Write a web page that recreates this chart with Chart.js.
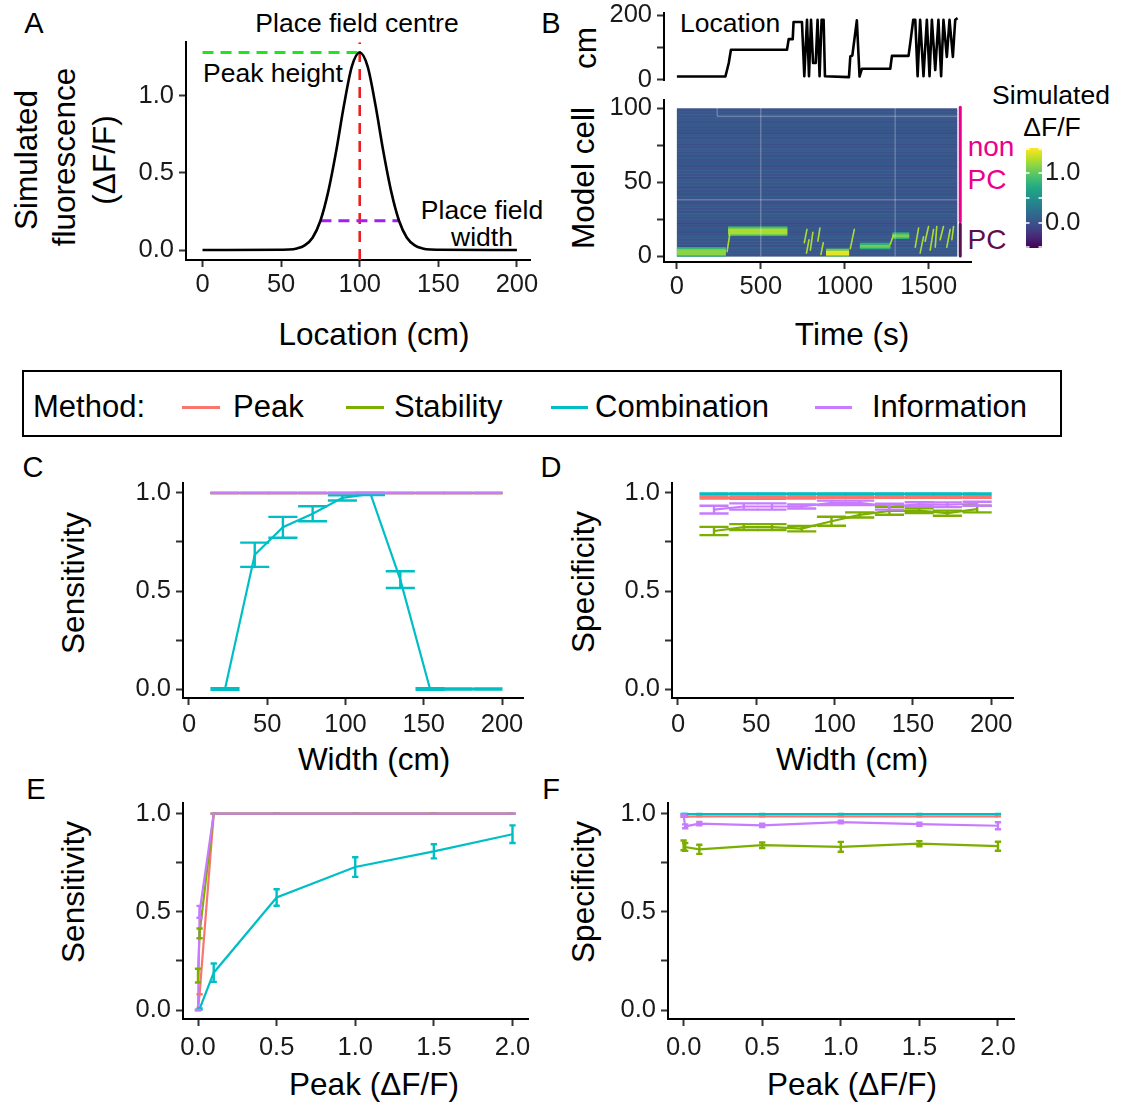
<!DOCTYPE html>
<html>
<head>
<meta charset="utf-8">
<title>Place cell detection – simulation</title>
<script src="https://cdn.jsdelivr.net/npm/chart.js@4.4.1/dist/chart.umd.min.js"></script>
<style>
  body { margin: 0; width: 1130px; height: 1104px; position: relative; overflow: hidden; background: #fff;
         font-family: 'Liberation Sans', Arial, Helvetica, sans-serif; color: #000; }
  canvas { position: absolute; }
  .t { position: absolute; white-space: nowrap; line-height: 1; transform: translate(-50%, -50%); }
  .l { transform: translate(0, -50%); }
  .v { transform: translate(-50%, -50%) rotate(-90deg); }
  .lab { font-size: 29px; }
  .ttl { font-size: 31.5px; }
  .ann { font-size: 26.5px; }
  .leg { font-size: 31px; }
  #legend { position: absolute; left: 22px; top: 370px; width: 1036px; height: 63px; border: 2px solid #000; }
  .key { position: absolute; height: 3px; top: 406px; }
</style>
</head>
<body>

<!-- panel letters -->
<div class="t lab" style="left:34px;top:23px">A</div>
<div class="t lab" style="left:551px;top:23px">B</div>
<div class="t lab" style="left:33px;top:467px">C</div>
<div class="t lab" style="left:551px;top:467px">D</div>
<div class="t lab" style="left:36px;top:789px">E</div>
<div class="t lab" style="left:551px;top:789px">F</div>

<!-- panel A text -->
<div class="t ann" style="left:357px;top:23px">Place field centre</div>
<div class="t ann l" style="left:203px;top:73px">Peak height</div>
<div class="t ann" style="left:482px;top:210px">Place field</div>
<div class="t ann" style="left:482px;top:237px">width</div>
<div class="t ttl v" style="left:27px;top:160px">Simulated</div>
<div class="t ttl v" style="left:65px;top:157px">fluorescence</div>
<div class="t ttl v" style="left:105px;top:160px">(ΔF/F)</div>
<div class="t ttl" style="left:374px;top:335px">Location (cm)</div>

<!-- panel B text -->
<div class="t ttl v" style="left:586px;top:48px">cm</div>
<div class="t ann l" style="left:680px;top:23px">Location</div>
<div class="t ttl v" style="left:584px;top:178px">Model cell</div>
<div class="t ttl" style="left:852px;top:335px">Time (s)</div>
<div class="t" style="left:991px;top:147px;font-size:28px;color:#EC008C">non</div>
<div class="t" style="left:987px;top:180px;font-size:28px;color:#EC008C">PC</div>
<div class="t" style="left:987px;top:240px;font-size:28px;color:#5E0F4F">PC</div>
<div class="t ann" style="left:1051px;top:95px">Simulated</div>
<div class="t ann" style="left:1052px;top:127px">ΔF/F</div>

<!-- shared legend -->
<div id="legend"></div>
<div class="t leg l" style="left:33px;top:406px">Method:</div>
<div class="key" style="left:182px;width:38px;background:#F8766D"></div>
<div class="t leg l" style="left:233px;top:406px">Peak</div>
<div class="key" style="left:346px;width:38px;background:#7CAE00"></div>
<div class="t leg l" style="left:394px;top:406px">Stability</div>
<div class="key" style="left:551px;width:37px;background:#00BFC4"></div>
<div class="t leg l" style="left:595px;top:406px">Combination</div>
<div class="key" style="left:815px;width:37px;background:#C77CFF"></div>
<div class="t leg l" style="left:872px;top:406px">Information</div>

<!-- panels C–F text -->
<div class="t ttl v" style="left:74px;top:583px">Sensitivity</div>
<div class="t ttl" style="left:374px;top:760px">Width (cm)</div>
<div class="t ttl v" style="left:584px;top:582px">Specificity</div>
<div class="t ttl" style="left:852px;top:760px">Width (cm)</div>
<div class="t ttl v" style="left:74px;top:892px">Sensitivity</div>
<div class="t ttl" style="left:374px;top:1085px">Peak (ΔF/F)</div>
<div class="t ttl v" style="left:584px;top:892px">Specificity</div>
<div class="t ttl" style="left:852px;top:1085px">Peak (ΔF/F)</div>

<script>
// ---------------- data ----------------

// A: one simulated place field
const locationCm = [0, 50, 55, 60, 65, 70, 75, 80, 85, 90, 95, 100, 105, 110, 115, 120, 125, 130, 135, 140, 145, 150, 200];
const fluorescence = [0, 0.002, 0.003, 0.01, 0.03, 0.08, 0.19, 0.38, 0.64, 0.94, 1.19, 1.28, 1.19, 0.94, 0.64, 0.38, 0.19, 0.08, 0.03, 0.01, 0.003, 0.002, 0];
const peakHeight = 1.28;
const fieldCentre = 100;
const fieldEdges = [75, 125];
const fieldEdgeLevel = 0.19;

// B: animal location over time
const traceTime = [0, 289, 309, 322, 656, 666, 690, 695, 745, 759, 775, 787, 799, 811, 827, 838, 850, 862, 874, 882,
  1025, 1033, 1045, 1072, 1088, 1102, 1271, 1281, 1380, 1394, 1408, 1420, 1434, 1449, 1469, 1489, 1505, 1519,
  1539, 1558, 1574, 1588, 1608, 1624, 1644, 1658, 1672];
const traceCm = [10, 10, 52, 93, 93, 126, 126, 179, 179, 11, 186, 11, 186, 52, 52, 186, 11, 186, 186, 11,
  8, 72, 75, 184, 10, 34, 34, 74, 74, 129, 186, 186, 11, 186, 11, 186, 11, 186,
  30, 186, 11, 186, 71, 186, 71, 186, 191];

// B: heatmap – baseline dF/F of model cells 1..100
const rowBase = [0.05, 0.02, 0.08, 0.0, 0.04, 0.1, 0.03, -0.02, 0.06, 0.01, 0.07, 0.0, 0.04, 0.09, 0.02, 0.05, -0.03, 0.06, 0.03, 0.08,
  0.01, 0.04, -0.08, 0.05, 0.02, 0.07, 0.0, 0.04, 0.1, 0.03, -0.02, 0.06, 0.01, 0.05, 0.08, 0.0, 0.03, -0.05, 0.06, 0.02,
  0.09, 0.04, 0.0, 0.05, 0.02, 0.07, -0.04, 0.03, 0.06, 0.01, 0.04, 0.08, 0.02, -0.03, 0.05, 0.0, 0.06, 0.03, 0.09, 0.01,
  0.04, -0.05, 0.07, 0.02, 0.05, 0.0, 0.08, 0.03, -0.02, 0.06, 0.01, 0.05, 0.09, 0.0, 0.04, -0.04, 0.06, 0.02, 0.07, 0.03,
  0.0, 0.05, 0.08, -0.03, 0.04, 0.01, 0.06, 0.02, 0.1, 0.03, 0.05, -0.02, 0.04, 0.07, 0.0, 0.06, 0.02, 0.05, -0.01, 0.03];
const heatEndTime = 1670;
// place-cell firing blocks: [start s, end s, first cell, last cell, dF/F]
const pcBands = [[0, 292, 1, 6, 1.15], [305, 658, 15, 20, 1.25], [888, 1026, 1, 5, 1.42],
  [1090, 1272, 6, 9, 1.05], [1283, 1384, 13, 16, 1.1]];
// brief crossings: [start s, cell, end s, cell]
const pcStreaks = [[299, 3, 318, 17], [759, 9, 775, 18], [772, 2, 787, 11], [795, 4, 810, 16], [840, 10, 852, 19],
  [858, 1, 872, 9], [1033, 5, 1057, 18], [1271, 8, 1290, 14], [1420, 6, 1440, 19], [1449, 2, 1469, 13],
  [1479, 10, 1499, 20], [1509, 4, 1529, 18], [1539, 6, 1548, 20], [1568, 11, 1588, 20], [1608, 6, 1628, 18],
  [1638, 11, 1648, 20]];
const colourMin = -0.5, colourMax = 1.5;
const colourTicks = [0, 1];
const colourMarks = [-0.5, 0, 0.5, 1, 1.5];

// C–F: method comparison
const methods = ['Peak', 'Stability', 'Combination', 'Information'];
const methodColours = ['#F8766D', '#7CAE00', '#00BFC4', '#C77CFF'];

const widthsCm = [23, 42, 60, 79, 98, 116, 135, 154, 172, 191];
const sensWidthPeak = [1, 1, 1, 1, 1, 1, 1, 1, 1, 1];
const sensWidthStab = [1, 1, 1, 1, 1, 1, 1, 1, 1, 1];
const sensWidthComb = [0, 0.685, 0.825, 0.894, 0.975, 0.995, 0.558, 0, 0, 0];
const sensWidthCombErr = [0.004, 0.062, 0.053, 0.038, 0.013, 0.005, 0.043, 0.004, 0.003, 0.003];
const sensWidthInfo = [1, 1, 1, 1, 1, 1, 1, 1, 1, 1];

const specWidthPeak = [0.976, 0.974, 0.974, 0.976, 0.978, 0.978, 0.978, 0.978, 0.978, 0.978];
const specWidthPeakErr = [0.004, 0.004, 0.004, 0.004, 0.003, 0.003, 0.003, 0.003, 0.003, 0.003];
const specWidthStab = [0.806, 0.826, 0.826, 0.818, 0.856, 0.888, 0.909, 0.91, 0.897, 0.918];
const specWidthStabErr = [0.021, 0.015, 0.015, 0.014, 0.023, 0.013, 0.02, 0.012, 0.013, 0.017];
const specWidthComb = [0.995, 0.995, 0.995, 0.995, 0.995, 0.995, 0.995, 0.995, 0.995, 0.995];
const specWidthCombErr = [0.003, 0.003, 0.003, 0.003, 0.003, 0.003, 0.003, 0.003, 0.003, 0.003];
const specWidthInfo = [0.915, 0.931, 0.931, 0.931, 0.95, 0.95, 0.93, 0.942, 0.94, 0.945];
const specWidthInfoErr = [0.02, 0.016, 0.016, 0.01, 0.011, 0.011, 0.015, 0.011, 0.012, 0.01];

const peaksDff = [0, 0.01, 0.1, 0.5, 1, 1.5, 2];
const sensPeakPeak = [0, 0.08, 1, 1, 1, 1, 1];
const sensPeakStab = [0.175, 0.39, 1, 1, 1, 1, 1];
const sensPeakStabErr = [0.035, 0.025, 0, 0, 0, 0, 0];
const sensPeakComb = [0, 0.005, 0.19, 0.573, 0.728, 0.808, 0.895];
const sensPeakCombErr = [0, 0.003, 0.047, 0.042, 0.05, 0.036, 0.045];
const sensPeakInfo = [0, 0.5, 1, 1, 1, 1, 1];
const sensPeakInfoErr = [0, 0.03, 0, 0, 0, 0, 0];

const specPeakPeak = [0.985, 0.985, 0.986, 0.986, 0.986, 0.986, 0.986];
const specPeakStab = [0.838, 0.83, 0.818, 0.839, 0.831, 0.847, 0.834];
const specPeakStabErr = [0.025, 0.02, 0.023, 0.014, 0.025, 0.013, 0.023];
const specPeakComb = [0.998, 0.998, 0.998, 0.998, 0.998, 0.998, 0.998];
const specPeakInfo = [0.99, 0.935, 0.949, 0.94, 0.957, 0.946, 0.938];
const specPeakInfoErr = [0.006, 0.01, 0.008, 0.008, 0.007, 0.008, 0.018];

// ---------------- helpers ----------------
Chart.defaults.font.family = "'Liberation Sans', Arial, sans-serif";
Chart.defaults.color = '#1a1a1a';
Chart.defaults.animation = false;
Chart.defaults.plugins.legend.display = false;
Chart.defaults.plugins.tooltip.enabled = false;

const viridisStops = ['#440154', '#482475', '#414487', '#355f8d', '#2a788e', '#21918c', '#22a884', '#44bf70', '#7ad151', '#bddf26', '#fde725'];
const hexRgb = h => [1, 3, 5].map(i => parseInt(h.substr(i, 2), 16));
function viridis(v) {
  let f = (v - colourMin) / (colourMax - colourMin);
  f = Math.min(1, Math.max(0, f)) * 10;
  const i = Math.min(9, Math.floor(f)), k = f - i;
  const a = hexRgb(viridisStops[i]), b = hexRgb(viridisStops[i + 1]);
  return 'rgb(' + a.map((c, j) => Math.round(c + (b[j] - c) * k)).join(',') + ')';
}

// axis in the ggplot classic style: black line, outward ticks, no grid
function axis(min, max, ticks, labelled, fmt, size, pad, extra) {
  return Object.assign({
    type: 'linear', min, max,
    afterBuildTicks: s => { s.ticks = ticks.map(v => ({ value: v })); },
    afterFit: s => { if (s.isHorizontal()) s.height = size; else s.width = size; },
    ticks: { autoSkip: false, maxRotation: 0, minRotation: 0, padding: pad,
             font: { size: 25.5, lineHeight: 1.2 }, color: '#1a1a1a',
             callback: v => labelled.includes(v) ? fmt(v) : '' },
    grid: { drawOnChartArea: false, tickLength: 7, tickWidth: 2, tickColor: '#333' },
    border: { display: true, color: '#000', width: 2 }
  }, extra || {});
}
const dec1 = v => v.toFixed(1);
const int0 = v => String(v);

// put a canvas so that its chart area lands on the given page box
function place(area, leftW, bottomH, pad) {
  const c = document.createElement('canvas');
  const left = area.l - leftW - pad.left, top = area.t - pad.top;
  c.width = area.r + pad.right - left;
  c.height = area.b + bottomH + pad.bottom - top;
  c.style.left = left + 'px';
  c.style.top = top + 'px';
  document.body.appendChild(c);
  return c;
}

const errorBars = {
  id: 'errorBars',
  afterDatasetsDraw(chart, args, opts) {
    const { ctx, scales: { x, y } } = chart;
    chart.data.datasets.forEach(ds => {
      if (!ds.errors) return;
      ctx.save();
      ctx.strokeStyle = ds.borderColor;
      ctx.lineWidth = opts.width;
      ds.data.forEach((p, i) => {
        const e = ds.errors[i];
        const px = x.getPixelForValue(p.x);
        const lo = y.getPixelForValue(p.y - e), hi = y.getPixelForValue(p.y + e);
        const hw = Math.abs(x.getPixelForValue(p.x + opts.cap / 2) - px);
        ctx.beginPath();
        ctx.moveTo(px, lo); ctx.lineTo(px, hi);
        ctx.moveTo(px - hw, lo); ctx.lineTo(px + hw, lo);
        ctx.moveTo(px - hw, hi); ctx.lineTo(px + hw, hi);
        ctx.stroke();
      });
      ctx.restore();
    });
  }
};

// Information drawn last (on top), Peak first
function methodSets(xs, ys, errs) {
  return methods.map((m, i) => ({
    label: m,
    order: methods.length - 1 - i,
    data: xs.map((x, j) => ({ x, y: ys[i][j] })),
    errors: errs[i],
    borderColor: methodColours[i],
    borderWidth: 2.2,
    pointRadius: 0,
    tension: 0
  }));
}

const basePad = { left: 10, top: 20, right: 30, bottom: 4 };
function baseOptions(pad, scales, plugins) {
  return { responsive: false, devicePixelRatio: 1, layout: { padding: pad }, scales, plugins: plugins || {} };
}

// ---------------- panel A ----------------
const areaA = { l: 186, t: 42, r: 530, b: 260 };
new Chart(place(areaA, 70, 50, basePad), {
  type: 'line',
  data: { datasets: [
    { data: locationCm.map((x, i) => ({ x, y: fluorescence[i] })), borderColor: '#000', borderWidth: 2.6,
      pointRadius: 0, cubicInterpolationMode: 'monotone' },
    { data: [{ x: 0, y: peakHeight }, { x: fieldCentre, y: peakHeight }], borderColor: '#1ee61e',
      borderWidth: 3, borderDash: [11, 7], pointRadius: 0 },
    { data: [{ x: fieldEdges[0], y: fieldEdgeLevel }, { x: fieldEdges[1], y: fieldEdgeLevel }], borderColor: '#a020f0',
      borderWidth: 3, borderDash: [11, 7], pointRadius: 0 },
    { data: [{ x: fieldCentre, y: -0.0646 }, { x: fieldCentre, y: 1.3465 }], borderColor: '#ee1c1c',
      borderWidth: 2.6, borderDash: [11, 7], pointRadius: 0 }
  ] },
  options: baseOptions(basePad, {
    x: axis(-10.5, 208.3, [0, 50, 100, 150, 200], [0, 50, 100, 150, 200], int0, 50, 3),
    y: axis(-0.0646, 1.3465, [0, 0.5, 1], [0, 0.5, 1], dec1, 70, 5)
  })
});

// ---------------- panel B: location trace ----------------
const areaTrace = { l: 664, t: 13, r: 971, b: 83 };
const padTrace = { left: 10, top: 20, right: 30, bottom: 18 };
new Chart(place(areaTrace, 70, 0, padTrace), {
  type: 'line',
  data: { datasets: [{ data: traceTime.map((x, i) => ({ x, y: traceCm[i] })), borderColor: '#000',
    borderWidth: 2.6, pointRadius: 0, tension: 0, borderJoinStyle: 'round' }] },
  options: baseOptions(padTrace, {
    x: { type: 'linear', min: -76.8, max: 1752, display: false },
    y: axis(-3, 206, [0, 100, 200], [0, 200], int0, 70, 5)
  })
});

// ---------------- panel B: heatmap ----------------
const heatmap = {
  id: 'heatmap',
  beforeDatasetsDraw(chart) {
    const { ctx, scales: { x, y } } = chart;
    const X = v => x.getPixelForValue(v), Y = v => y.getPixelForValue(v);
    const x0 = X(0), x1 = X(heatEndTime);
    ctx.save();
    rowBase.forEach((v, i) => {
      ctx.fillStyle = viridis(v);
      ctx.fillRect(x0, Y(i + 1), x1 - x0, Y(i) - Y(i + 1) + 0.6);
    });
    pcBands.forEach(([t0, t1, lo, hi, v]) => {
      for (let r = lo; r <= hi; r++) {
        const k = (r === lo || r === hi) ? 0.72 : 1;
        ctx.fillStyle = viridis(v * k);
        ctx.fillRect(X(t0), Y(r), X(t1) - X(t0), Y(r - 1) - Y(r) + 0.6);
      }
    });
    ctx.strokeStyle = viridis(1.25);
    ctx.lineWidth = 1.6;
    ctx.lineCap = 'round';
    pcStreaks.forEach(([t0, r0, t1, r1]) => {
      ctx.beginPath(); ctx.moveTo(X(t0), Y(r0)); ctx.lineTo(X(t1), Y(r1)); ctx.stroke();
    });
    // faint overlay lines seen in the original
    ctx.strokeStyle = 'rgba(255,255,255,0.35)';
    ctx.lineWidth = 1;
    ctx.beginPath();
    [500, 1300].forEach(t => { ctx.moveTo(X(t), Y(0)); ctx.lineTo(X(t), Y(100)); });
    ctx.moveTo(x0, Y(38)); ctx.lineTo(x1, Y(38));
    ctx.moveTo(X(240), Y(100)); ctx.lineTo(X(240), Y(94.6)); ctx.lineTo(x1, Y(94.6));
    ctx.stroke();
    // PC / non-PC brackets
    const bx = X(1688);
    ctx.lineWidth = 3;
    ctx.strokeStyle = '#EC008C';
    ctx.beginPath(); ctx.moveTo(bx, Y(23.3)); ctx.lineTo(bx, Y(100.7)); ctx.stroke();
    ctx.strokeStyle = '#5E0F4F';
    ctx.beginPath(); ctx.moveTo(bx, Y(0)); ctx.lineTo(bx, Y(21.6)); ctx.stroke();
    ctx.restore();
  }
};
const areaHeat = { l: 664, t: 100, r: 971, b: 262 };
const padHeat = { left: 10, top: 20, right: 30, bottom: 4 };
new Chart(place(areaHeat, 70, 50, padHeat), {
  type: 'line',
  data: { datasets: [{ data: [] }] },
  options: baseOptions(padHeat, {
    x: axis(-76.8, 1752, [0, 500, 1000, 1500], [0, 500, 1000, 1500], int0, 50, 3),
    y: axis(-4.05, 105.4, [0, 25, 50, 75, 100], [0, 50, 100], int0, 70, 5)
  }),
  plugins: [heatmap]
});

// ---------------- panel B: colour bar ----------------
const colourBar = {
  id: 'colourBar',
  beforeDatasetsDraw(chart) {
    const { ctx, chartArea: a, scales: { y } } = chart;
    const g = ctx.createLinearGradient(0, y.getPixelForValue(colourMin), 0, y.getPixelForValue(colourMax));
    viridisStops.forEach((c, i) => g.addColorStop(i / 10, c));
    ctx.save();
    ctx.fillStyle = g;
    ctx.fillRect(a.left, a.top, a.right - a.left, a.bottom - a.top);
    ctx.strokeStyle = '#fff';
    ctx.lineWidth = 1.5;
    ctx.beginPath();
    colourMarks.forEach(v => {
      const py = Math.min(a.bottom - 1, Math.max(a.top + 1, y.getPixelForValue(v)));
      ctx.moveTo(a.left, py); ctx.lineTo(a.left + 3.5, py);
      ctx.moveTo(a.right - 3.5, py); ctx.lineTo(a.right, py);
    });
    ctx.stroke();
    ctx.restore();
  }
};
(function () {
  const area = { l: 1026, t: 148, r: 1042, b: 248 };
  const pad = { left: 2, top: 20, right: 0, bottom: 20 };
  const c = document.createElement('canvas');
  c.width = area.r + 60 - (area.l - pad.left);
  c.height = area.b + pad.bottom - (area.t - pad.top);
  c.style.left = (area.l - pad.left) + 'px';
  c.style.top = (area.t - pad.top) + 'px';
  document.body.appendChild(c);
  new Chart(c, {
    type: 'line',
    data: { datasets: [{ data: [] }] },
    options: baseOptions(pad, {
      x: { type: 'linear', min: 0, max: 1, display: false },
      y: {
        type: 'linear', position: 'right', min: colourMin, max: colourMax,
        afterBuildTicks: s => { s.ticks = colourTicks.map(v => ({ value: v })); },
        afterFit: s => { s.width = 60; },
        ticks: { padding: 3, font: { size: 25.5, lineHeight: 1.2 }, color: '#1a1a1a', callback: dec1 },
        grid: { display: false, drawTicks: false },
        border: { display: false }
      }
    }),
    plugins: [colourBar]
  });
})();

// ---------------- panels C–F ----------------
const yTicks = [0, 0.25, 0.5, 0.75, 1];
const yLabels = [0, 0.5, 1];
const widthTicks = [0, 50, 100, 150, 200];
const peakTicks = [0, 0.5, 1, 1.5, 2];

function methodPanel(area, xr, yr, xs, ys, errs, xTicks, xFmt, xPad, cap) {
  new Chart(place(area, 70, 50, basePad), {
    type: 'line',
    data: { datasets: methodSets(xs, ys, errs) },
    options: baseOptions(basePad, {
      x: axis(xr[0], xr[1], xTicks, xTicks, xFmt, 50, xPad),
      y: axis(yr[0], yr[1], yTicks, yLabels, dec1, 70, 5)
    }, { errorBars: { cap, width: 2.4 } }),
    plugins: [errorBars]
  });
}

const zeros10 = widthsCm.map(() => 0);
methodPanel({ l: 183, t: 483, r: 523, b: 698 }, [-3.83, 213.4], [-0.0458, 1.0494], widthsCm,
  [sensWidthPeak, sensWidthStab, sensWidthComb, sensWidthInfo],
  [zeros10, zeros10, sensWidthCombErr, zeros10], widthTicks, int0, 5, 18.6);

methodPanel({ l: 672, t: 483, r: 1013, b: 698 }, [-3.83, 213.9], [-0.0458, 1.0494], widthsCm,
  [specWidthPeak, specWidthStab, specWidthComb, specWidthInfo],
  [specWidthPeakErr, specWidthStabErr, specWidthCombErr, specWidthInfoErr], widthTicks, int0, 5, 18.6);

const zeros7 = peaksDff.map(() => 0);
methodPanel({ l: 183, t: 803, r: 528, b: 1019 }, [-0.0954, 2.0986], [-0.0458, 1.0524], peaksDff,
  [sensPeakPeak, sensPeakStab, sensPeakComb, sensPeakInfo],
  [zeros7, sensPeakStabErr, sensPeakCombErr, sensPeakInfoErr], peakTicks, dec1, 7, 0.04);

methodPanel({ l: 668, t: 803, r: 1014, b: 1019 }, [-0.0994, 2.102], [-0.0458, 1.0524], peaksDff,
  [specPeakPeak, specPeakStab, specPeakComb, specPeakInfo],
  [zeros7, specPeakStabErr, zeros7, specPeakInfoErr], peakTicks, dec1, 7, 0.04);
</script>
</body>
</html>
